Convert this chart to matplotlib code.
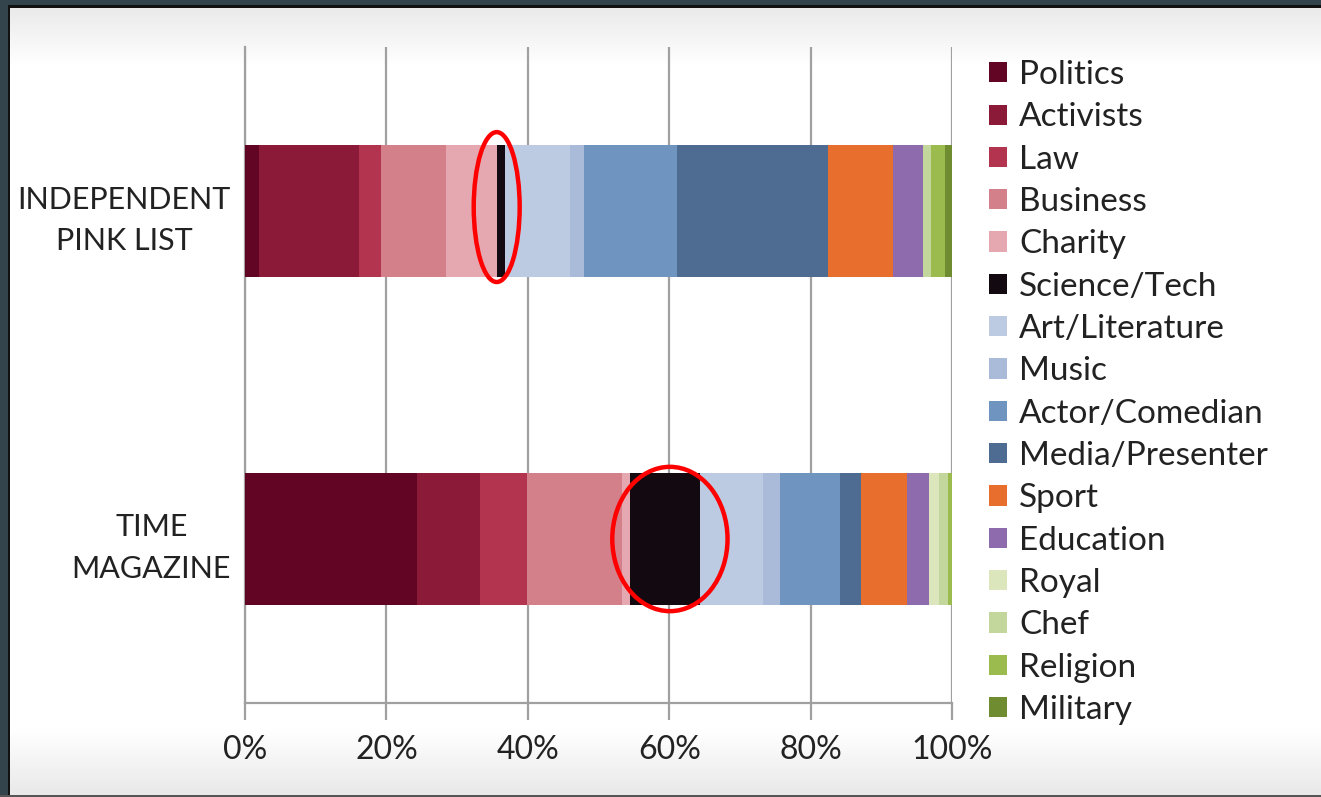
import matplotlib
matplotlib.use("Agg")
import matplotlib.pyplot as plt
import numpy as np
from matplotlib.patches import Ellipse, Rectangle

# ---- data ----
groups = ["INDEPENDENT\nPINK LIST", "TIME\nMAGAZINE"]
categories = ["Politics", "Activists", "Law", "Business", "Charity", "Science/Tech",
              "Art/Literature", "Music", "Actor/Comedian", "Media/Presenter", "Sport",
              "Education", "Royal", "Chef", "Religion", "Military"]
pink_list = [2.0, 14.1, 3.2, 9.1, 7.2, 1.2, 9.2, 1.9, 13.2, 21.4, 9.2, 4.2, 0.0, 1.2, 1.9, 1.0]
time_mag  = [24.3, 9.0, 6.6, 13.4, 1.2, 9.9, 8.9, 2.4, 8.5, 2.9, 6.5, 3.2, 1.3, 1.4, 0.5, 0.0]
x_ticks = [0, 20, 40, 60, 80, 100]
x_tick_labels = ["0%", "20%", "40%", "60%", "80%", "100%"]

colors = ["#620423", "#8b1a38", "#b2344f", "#d4808a", "#e6a8b0", "#120a10",
          "#bccbe2", "#a9bbd9", "#7094c0", "#4e6c92", "#e86e2e",
          "#8e6bad", "#dce6bc", "#c3d69b", "#9cbb4f", "#6f8c30"]

FONT = ["Lato", "DejaVu Sans"]
plt.rcParams['font.family'] = FONT
TXT = "#222222"

W, H = 1321, 797
fig = plt.figure(figsize=(W / 100, H / 100), dpi=100)
fig.patch.set_facecolor("#34444c")

# inner white frame with soft gradients (video frame look)
bg = fig.add_axes([10 / W, 2 / H, (W - 10) / W, (789 - 2) / H])
bg.set_axis_off()
n = 200
ys = np.linspace(0, 1, n)
vals = np.ones(n)
top = ys < 0.07
vals[top] = 0.92 + 0.08 * (ys[top] / 0.07)
bot = ys > 0.92
vals[bot] = 1.0 - 0.085 * ((ys[bot] - 0.92) / 0.08)
img = np.repeat(vals[:, None], 3, axis=1)[:, None, :]
bg.imshow(img, aspect="auto", extent=[0, 1, 1, 0], interpolation="bilinear")
bg.set_xlim(0, 1); bg.set_ylim(1, 0)
fig.add_artist(Rectangle((8 / W, 0), 2 / W, 1 - 5 / H, transform=fig.transFigure,
                         facecolor="#111111", edgecolor="none", zorder=0.6))
fig.add_artist(Rectangle((8 / W, 1 - 8 / H), 1, 3 / H, transform=fig.transFigure,
                         facecolor="#111111", edgecolor="none", zorder=0.6))
fig.add_artist(Rectangle((0, 0), 1, 2 / H, transform=fig.transFigure,
                         facecolor="#555555", edgecolor="none", zorder=0.6))

ax = fig.add_axes([245 / W, 1 - 703 / H, (952 - 245) / W, (703 - 47) / H])
ax.patch.set_alpha(0)

ypos = np.arange(len(groups))
data = np.array([pink_list, time_mag])
left = np.zeros(len(groups))
handles = []
for i, cat in enumerate(categories):
    b = ax.barh(ypos, data[:, i], left=left, height=0.4, color=colors[i],
                label=cat, zorder=3, linewidth=0)
    handles.append(b)
    left = left + data[:, i]

ax.set_xlim(0, 100)
ax.set_ylim(1.5, -0.5)
ax.set_xticks(x_ticks)
ax.set_xticklabels(x_tick_labels, fontsize=23, color=TXT)
ax.set_yticks(ypos)
ax.set_yticklabels(groups, fontsize=22, color=TXT, multialignment="center",
                   linespacing=1.6)
ax.tick_params(axis="y", length=0, pad=10)
ax.tick_params(axis="x", length=12, width=1.6, color="#a0a0a0", pad=11)
ax.xaxis.grid(True, color="#a0a0a0", linewidth=1.6, zorder=1)
for s in ["top", "right"]:
    ax.spines[s].set_visible(False)
for s in ["left", "bottom"]:
    ax.spines[s].set_color("#a0a0a0")
    ax.spines[s].set_linewidth(1.6)
ax.spines["left"].set_bounds(1.5, -0.5)

# red highlight ellipses
ax.add_patch(Ellipse((35.6, -0.012), 6.5, 0.457, fill=False, edgecolor="#ff0000",
                     linewidth=3.2, zorder=5))
ax.add_patch(Ellipse((60.1, 1.0), 16.3, 0.44, fill=False, edgecolor="#ff0000",
                     linewidth=3.2, zorder=5))

leg = ax.legend(handles=handles, loc="upper left",
                bbox_to_anchor=(989 / W, 1 - 60 / H), bbox_transform=fig.transFigure,
                frameon=False, fontsize=24, handlelength=0.55, handleheight=0.55,
                handletextpad=0.35, labelspacing=0.37, borderpad=0, borderaxespad=0)
for t in leg.get_texts():
    t.set_color(TXT)

fig.savefig("out.png", dpi=100, facecolor=fig.get_facecolor())
